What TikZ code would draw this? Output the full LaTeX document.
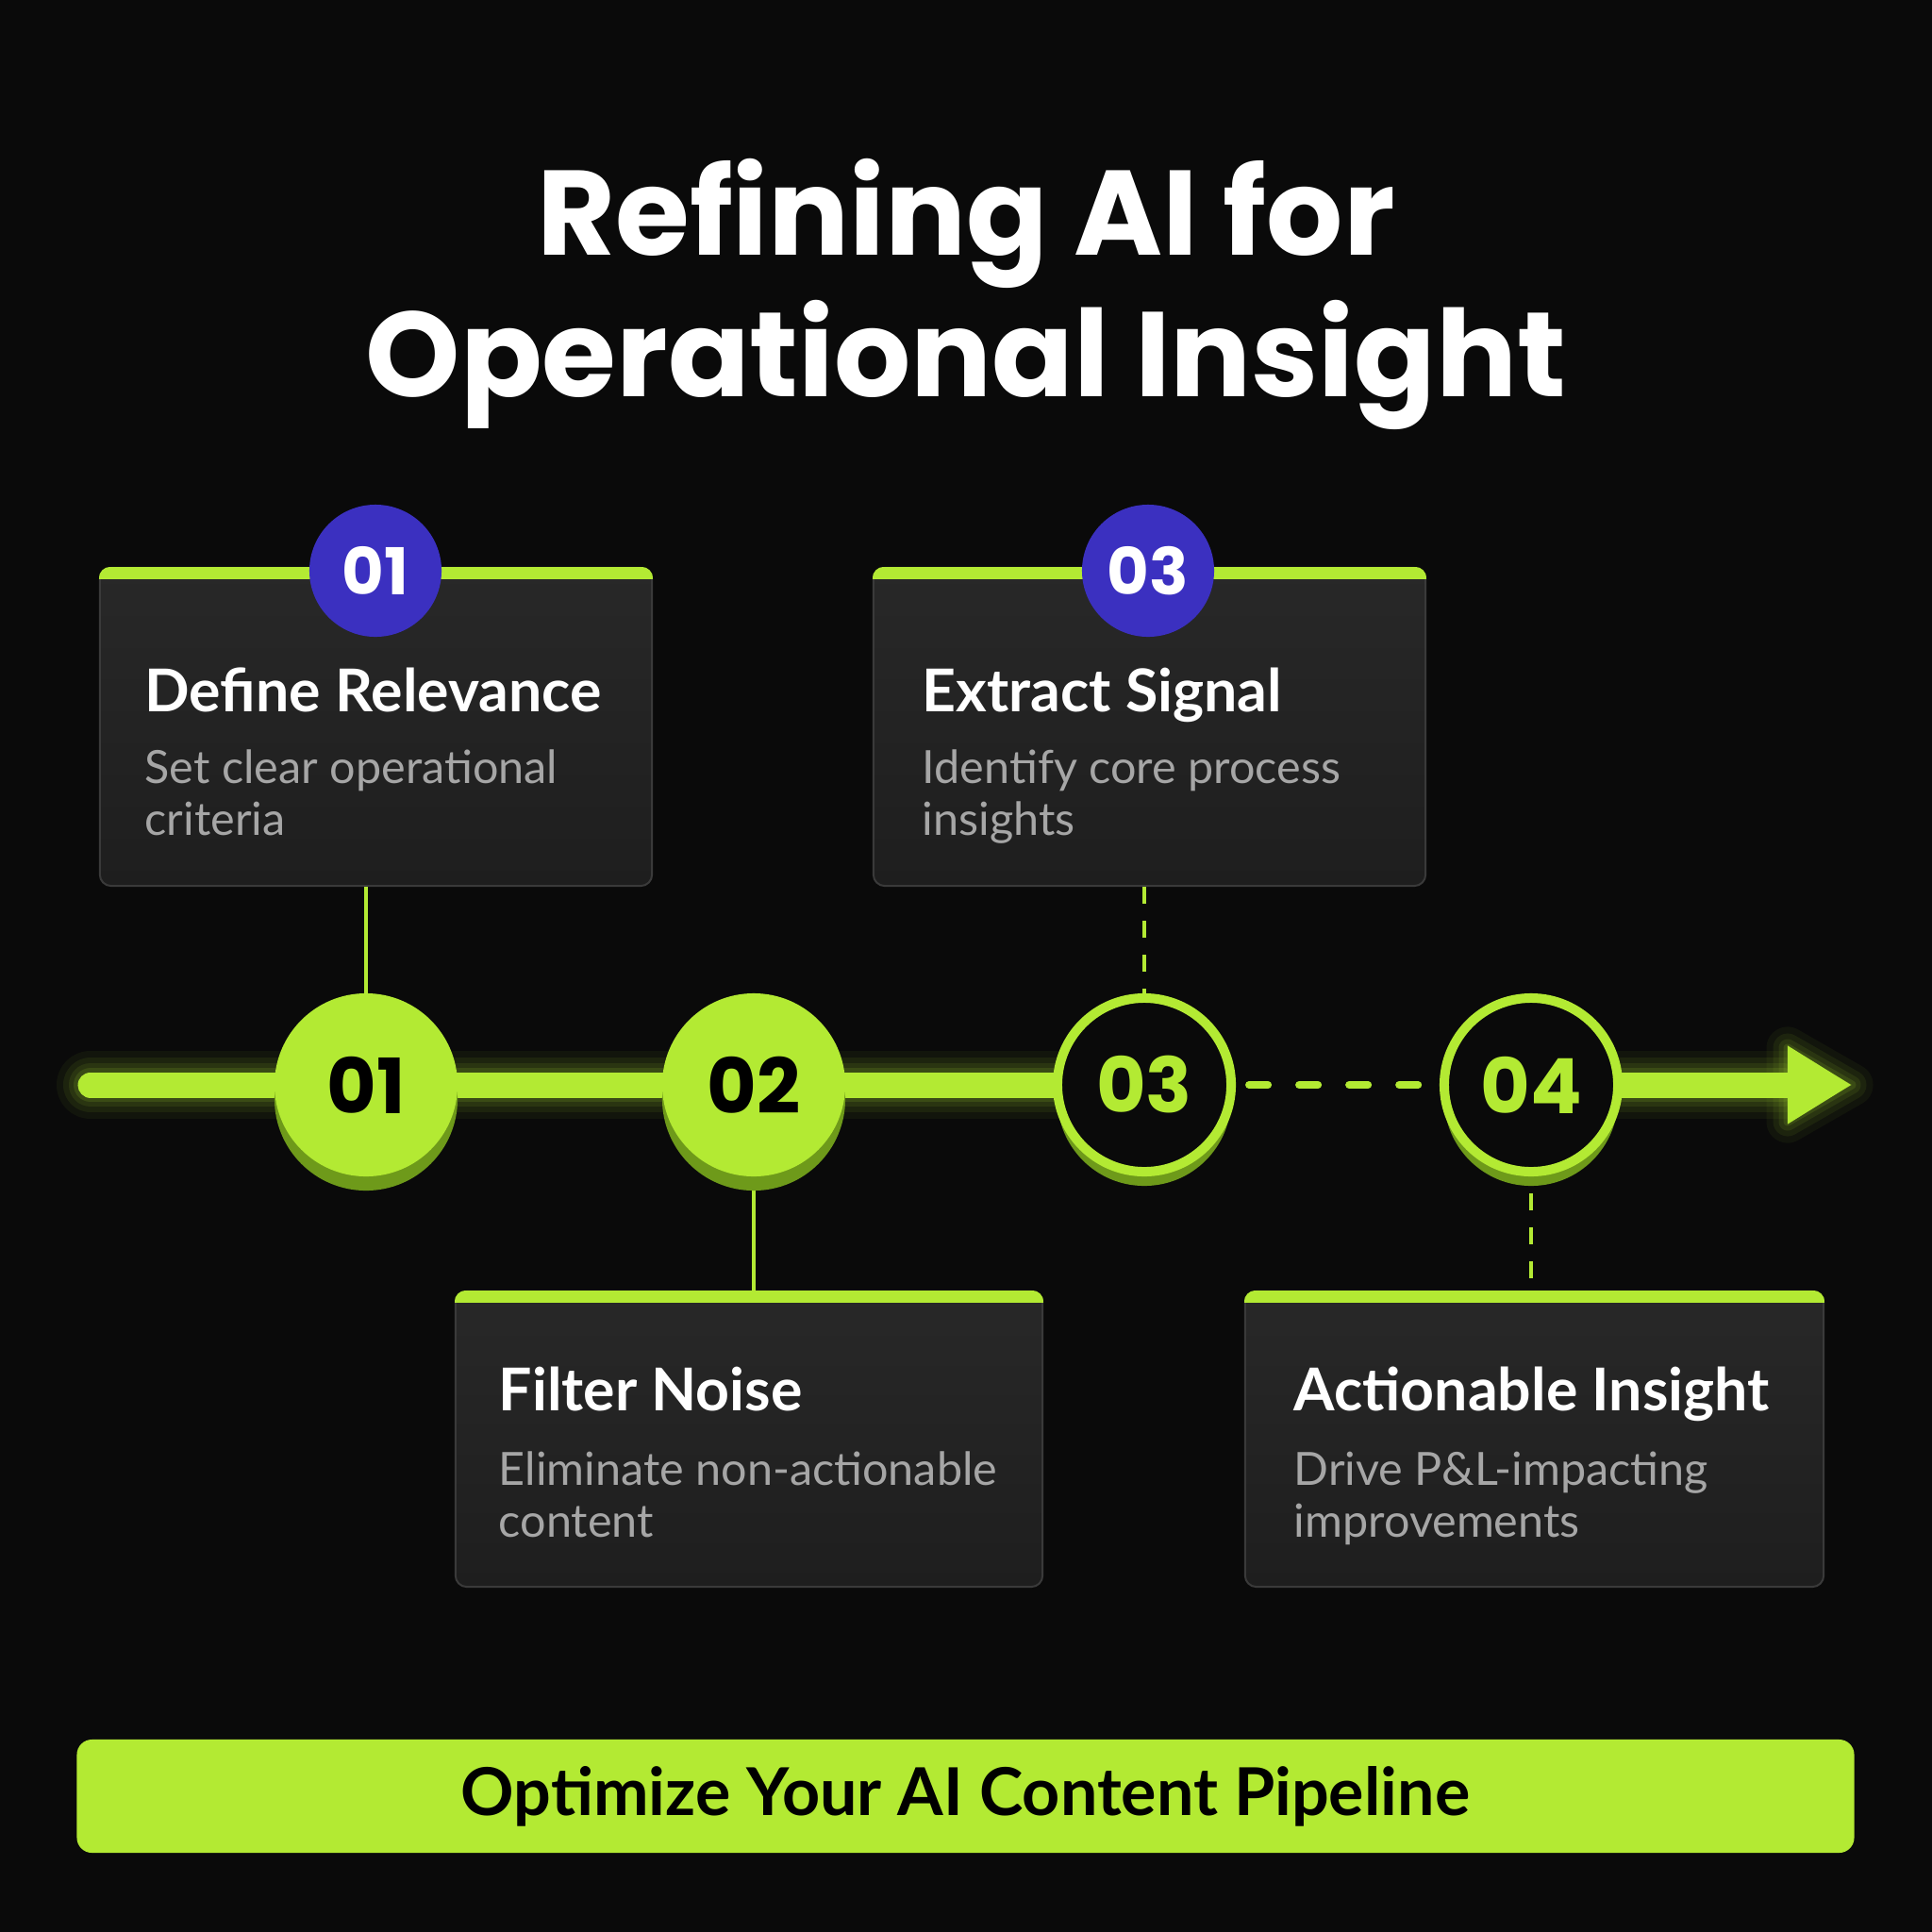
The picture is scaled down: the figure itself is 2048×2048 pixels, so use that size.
\documentclass[tikz,border=0pt]{standalone}
\usepackage{fontspec}
\setmainfont{Lato}
\newfontfamily\headfont{Poppins}
\usetikzlibrary{arrows.meta,positioning,shadows,calc}

\definecolor{bgdark}{HTML}{0A0A0A}
\definecolor{lime}{HTML}{B3EA33}
\definecolor{limedark}{HTML}{6E9A1A}
\definecolor{badgeblue}{HTML}{3B30C0}
\definecolor{cardtop}{HTML}{282828}
\definecolor{cardbot}{HTML}{1E1E1E}
\definecolor{cardline}{HTML}{3A3A3A}
\definecolor{bodygray}{HTML}{A6A6A6}

\begin{document}
\begin{tikzpicture}[x=0.01cm, y=-0.01cm,
  card/.style={draw=cardline, line width=0.02cm, top color=cardtop, bottom color=cardbot,
    rounded corners=0.12cm, inner sep=0pt},
  cardtitle/.style={anchor=base west, inner sep=0pt, text=white, font=\bfseries\fontsize{17.8}{20}\selectfont},
  % multi-line: base is the last line
  cardbody/.style={anchor=base west, inner sep=0pt, text=bodygray, align=left,
    font=\fontsize{13.8}{15.6}\selectfont},
  badge/.style={circle, minimum size=1.4cm, inner sep=0pt, fill=badgeblue, text=white,
    font=\headfont\bfseries\fontsize{19.5}{19.5}\selectfont},
  dotshadow/.style={drop shadow={shadow xshift=0cm, shadow yshift=-0.15cm, fill=limedark, opacity=1}},
  fulldot/.style={circle, minimum size=1.94cm, inner sep=0pt, fill=lime, text=black, dotshadow,
    font=\headfont\bfseries\fontsize{23}{23}\selectfont},
  ringdot/.style={circle, minimum size=1.84cm, inner sep=0pt, fill=bgdark, draw=lime,
    line width=0.1cm, text=lime, dotshadow, font=\headfont\bfseries\fontsize{23}{23}\selectfont},
  link/.style={lime, line width=0.04cm},
  dashlink/.style={lime, line width=0.04cm, dash pattern=on 0.18cm off 0.18cm},
  titletext/.style={anchor=base, inner sep=0pt, text=white, font=\headfont\bfseries\fontsize{36.3}{40}\selectfont}
]
\useasboundingbox (0,0) rectangle (2048,2048);
\fill[bgdark] (0,0) rectangle (2048,2048);

% title
\node[titletext] (title1) at (1024,270) {Refining AI for};
\node[titletext] (title2) at (1024,420) {Operational Insight};

% cards
\node[card, minimum width=5.85cm, minimum height=3.37cm] (c1) at (398.5,770.5) {};
\node[card, minimum width=5.85cm, minimum height=3.37cm] (c3) at (1218.5,770.5) {};
\node[card, minimum width=6.22cm, minimum height=3.13cm] (c2) at (794,1525.5) {};
\node[card, minimum width=6.13cm, minimum height=3.13cm] (c4) at (1626.5,1525.5) {};
\foreach \c in {c1,c2,c3,c4} {
  \begin{scope}
    \clip[rounded corners=0.12cm] (\c.south west) rectangle (\c.north east);
    \fill[lime] (\c.north west) rectangle ([yshift=-0.13cm]\c.north east);
  \end{scope}
}

\node[cardtitle] (t1) at (153,754) {Define Relevance};
\node[cardbody] (d1) at (153,885) {Set clear operational\\criteria};
\node[cardtitle] (t3) at (977,754) {Extract Signal};
\node[cardbody] (d3) at (977,885) {Identify core process\\insights};
\node[cardtitle] (t2) at (528,1495) {Filter Noise};
\node[cardbody] (d2) at (528,1629) {Eliminate non-actionable\\content};
\node[cardtitle] (t4) at (1371,1495) {Actionable Insight};
\node[cardbody] (d4) at (1371,1629) {Drive P\&L-impacting\\improvements};

\node[badge] (b1) at (398,605) {01};
\node[badge] (b3) at (1217,605) {03};

% timeline
\coordinate (tstart) at (96,1150);
\coordinate (ttip) at (1963,1150);
\coordinate (p1) at (388,1150);
\coordinate (p2) at (799,1150);
\coordinate (p3) at (1213,1150);
\coordinate (p4) at (1623,1150);

\foreach \w/\o in {0.72cm/0.05, 0.58cm/0.07, 0.46cm/0.09, 0.36cm/0.12} {
  \draw[lime, line width=\w, opacity=\o, line cap=round] (tstart) -- (p3) (p4) -- (1890,1150);
  \filldraw[lime, line width=\w-0.27cm, opacity=\o, line join=round] (1895,1111) -- (ttip) -- (1895,1189) -- cycle;
}
\draw[lime, line width=0.27cm, line cap=round] (tstart) -- (p3);
\draw[lime, line width=0.27cm, -{Triangle[length=0.68cm, width=0.78cm]}] (p4) -- (ttip);

% links to cards
\draw[link] (p1 |- c1.south) -- (p1);
\draw[dashlink] (p3 |- c3.south) -- (p3);
\draw[link] (p2) -- (p2 |- c2.north);
\draw[dashlink] ([yshift=-1.15cm]p4) -- (p4 |- c4.north);

\node[fulldot] (n1) at (p1) {01};
\node[fulldot] (n2) at (p2) {02};
\node[ringdot] (n3) at (p3) {03};
\node[ringdot] (n4) at (p4) {04};
\draw[lime, line width=0.08cm, line cap=round, dash pattern=on 0.2cm off 0.33cm]
  ([xshift=0.14cm]n3.east) -- ([xshift=-0.1cm]n4.west);

% banner
\node[fill=lime, rounded corners=0.16cm, minimum width=18.83cm, minimum height=1.2cm,
  text=black, font=\bfseries\fontsize{19.9}{22}\selectfont] (ban) at (1023.5,1904)
  {Optimize Your AI Content Pipeline};
\end{tikzpicture}
\end{document}
